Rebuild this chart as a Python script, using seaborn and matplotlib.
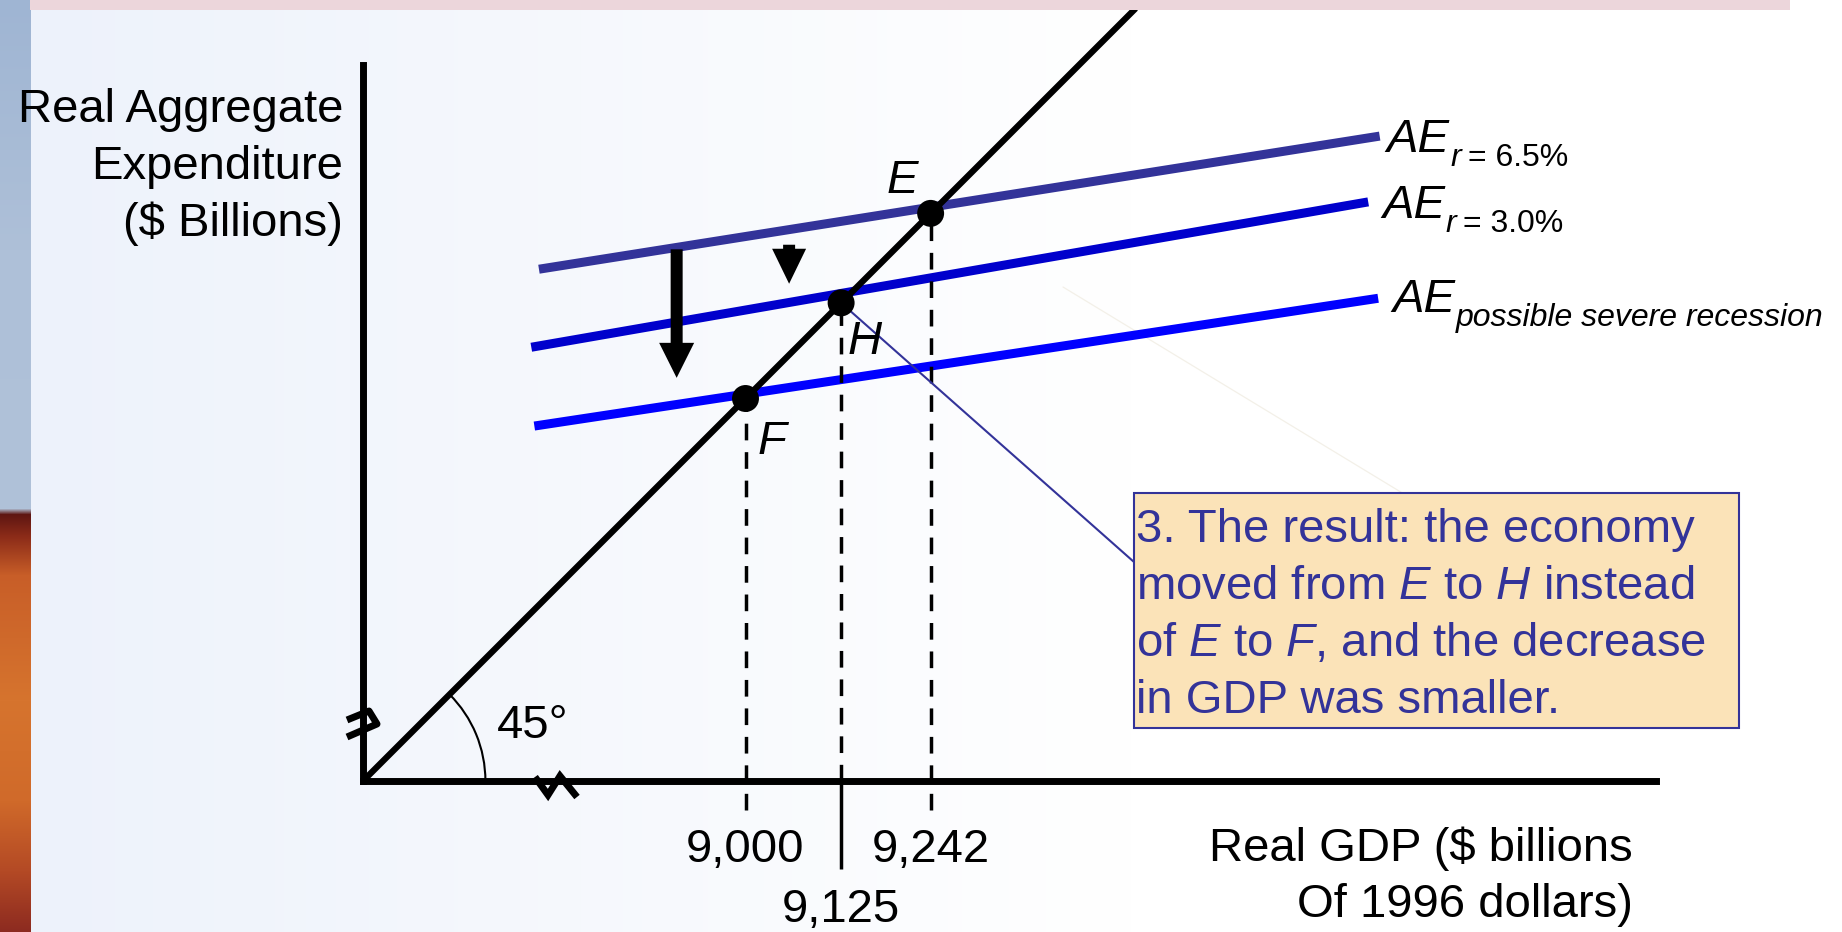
import numpy as np
import pandas as pd
import matplotlib
matplotlib.use("Agg")
import matplotlib.pyplot as plt
import matplotlib.transforms as mtransforms
from matplotlib.patches import Arc, Rectangle
from matplotlib.colors import to_rgb
import seaborn as sns

# ---------------- data ----------------
eq_labels = ["E", "H", "F"]
eq_gdp = [9242, 9125, 9000]                 # equilibrium real GDP, $ billions
gdp_tick_labels = ["9,242", "9,125", "9,000"]

ae_names = ["r = 6.5%", "r = 3.0%", "possible severe recession"]
ae_gdp_start = [8730, 8720, 8724]
ae_gdp_end = [9829, 9814, 9827]
ae_value_start = [9169, 9067, 8964]
ae_value_end = [9343, 9257, 9131]
ae_colors = ["#333399", "#0000cc", "#0000ff"]

line45_range = [8500, 9510]

AXIS_ORIGIN = 8500
X_AXIS_END = 10190
Y_AXIS_END = 9436

box_lines = [
    "3. The result: the economy",
    r"moved from $\mathit{E}$ to $\mathit{H}$ instead",
    r"of $\mathit{E}$ to $\mathit{F}$, and the decrease",
    "in GDP was smaller.",
]
y_title_lines = ["Real Aggregate", "Expenditure", "($ Billions)"]
x_title_lines = ["Real GDP ($ billions", "Of 1996 dollars)"]

# ---------------- layout ----------------
W, H, DPI = 1842, 932, 100
PPU = 0.765                      # pixels per $bn
OX, OY = 363, 781                # pixel position of the axis origin
FS = 34
FS_SUB = 23
NAVY = "#333399"

sns.set_theme(style="white")
plt.rcParams["font.family"] = ["Liberation Sans", "DejaVu Sans"]
plt.rcParams["mathtext.fontset"] = "custom"
plt.rcParams["mathtext.rm"] = "Liberation Sans"
plt.rcParams["mathtext.it"] = "Liberation Sans:italic"
plt.rcParams["text.color"] = "black"

fig = plt.figure(figsize=(W / DPI, H / DPI), dpi=DPI)
fig.patch.set_facecolor("white")
pix = mtransforms.Affine2D().scale(1, -1).translate(0, H)   # top-left pixel coords

# background gradient
bg = fig.add_axes([0, 0, 1, 1], zorder=-5)
xs = np.arange(W)
t = np.clip((xs - 30) / 1100.0, 0, 1)[:, None]
c0 = np.array(to_rgb("#edf2fb"))
grad = (c0 * (1 - t) + np.ones(3) * t)[None, :, :]
bg.imshow(grad, aspect="auto", extent=(0, 1, 0, 1))
bg.axis("off")

# decorative left strip
strip = fig.add_axes([0, 0, 30 / W, 1], zorder=-4)
stops = [(0, "#9fb5d3"), (250, "#aec0d8"), (508, "#b0c2d9"), (514, "#5e1612"),
         (535, "#8a2a18"), (575, "#c85e28"), (700, "#d6742e"), (800, "#d06a2a"),
         (870, "#b44a25"), (932, "#8c2a20")]
ys = np.arange(H)
cols = np.zeros((H, 1, 3))
sp = [s[0] for s in stops]
for k in range(3):
    cols[:, 0, k] = np.interp(ys, sp, [to_rgb(s[1])[k] for s in stops])
strip.imshow(cols, aspect="auto", extent=(0, 1, 0, 1))
strip.axis("off")

ax = fig.add_axes([0, 0, 1, 1])
ax.patch.set_alpha(0)

# AE curves
ae_df = pd.DataFrame({
    "curve": np.repeat(ae_names, 2),
    "gdp": np.ravel(np.column_stack([ae_gdp_start, ae_gdp_end])),
    "ae": np.ravel(np.column_stack([ae_value_start, ae_value_end])),
})
sns.lineplot(data=ae_df, x="gdp", y="ae", hue="curve", hue_order=ae_names,
             palette=dict(zip(ae_names, ae_colors)), linewidth=6.5,
             solid_capstyle="butt", legend=False, errorbar=None, sort=False,
             ax=ax, zorder=2)

# 45-degree line
sns.lineplot(x=line45_range, y=line45_range, color="black", linewidth=4.5,
             solid_capstyle="butt", errorbar=None, ax=ax, zorder=4)

# dashed drop lines
dash = (0, (4.8, 3.4))
ax.vlines([eq_gdp[0], eq_gdp[2]], ymin=AXIS_ORIGIN - 29 / PPU,
          ymax=[eq_gdp[0], eq_gdp[2]], colors="black", linewidth=2.5,
          linestyles=[dash], zorder=3)
ax.vlines(eq_gdp[1], AXIS_ORIGIN, eq_gdp[1], colors="black", linewidth=2.5,
          linestyles=[dash], zorder=3)
ax.vlines(eq_gdp[1], AXIS_ORIGIN - 88 / PPU, AXIS_ORIGIN, colors="black",
          linewidth=2.5, zorder=3)

# connector from H to the text box
ax.plot([eq_gdp[1], AXIS_ORIGIN + (1134 - OX) / PPU],
        [eq_gdp[1], AXIS_ORIGIN + (OY - 562) / PPU],
        color=NAVY, linewidth=1.5, zorder=3)
# faint ghost line
ax.plot([1063, 1404], [287, 494], transform=pix, color="#f3f0e8",
        linewidth=0.9, zorder=1)

# equilibrium points
sns.scatterplot(x=eq_gdp, y=eq_gdp, s=19.4 ** 2, color="black",
                edgecolor="none", ax=ax, zorder=6)

# point labels (offsets in px: right, up)
pt_offsets_px = [(-28, 20), (23, -51), (26, -56)]
for lbl, g, (dx, dy) in zip(eq_labels, eq_gdp, pt_offsets_px):
    ax.annotate(lbl, (g, g), xytext=(dx * 0.72, dy * 0.72),
                textcoords="offset points", ha="center", va="baseline",
                fontsize=FS, fontstyle="italic", zorder=7)

# shift arrows
ax.arrow(8910, 9195, 0, 9027 - 9195, width=12 / PPU, head_width=35 / PPU,
         head_length=35 / PPU, length_includes_head=True, fc="black",
         ec="none", zorder=5)
ax.arrow(9057, 9201, 0, 9150 - 9201, width=12 / PPU, head_width=34 / PPU,
         head_length=35 / PPU, length_includes_head=True, fc="black",
         ec="none", zorder=5)

# 45 degree arc
ax.add_patch(Arc((AXIS_ORIGIN, AXIS_ORIGIN), 2 * 160, 2 * 160, theta1=0,
                 theta2=45, color="black", linewidth=1.5, zorder=4))
ax.text(533, 738, "45°", transform=pix, ha="center", va="baseline",
        fontsize=FS)

# axes as spines
for s in ["top", "right"]:
    ax.spines[s].set_visible(False)
for s, end in [("left", Y_AXIS_END), ("bottom", X_AXIS_END)]:
    ax.spines[s].set_position(("data", AXIS_ORIGIN))
    ax.spines[s].set_bounds(AXIS_ORIGIN, end)
    ax.spines[s].set_linewidth(5)
    ax.spines[s].set_color("black")
    ax.spines[s].set_capstyle("projecting")
    ax.spines[s].set_zorder(4)

# axis breaks
def pxshape(anchor, pts):
    return ([anchor[0] + dx / PPU for dx, dy in pts],
            [anchor[1] - dy / PPU for dx, dy in pts])

bx, by = pxshape((AXIS_ORIGIN, AXIS_ORIGIN + (OY - 724) / PPU),
                 [(-16, -4), (6, -13), (14, 0), (-16, 13)])
ax.plot(bx, by, color="black", linewidth=5, solid_joinstyle="round",
        solid_capstyle="butt", zorder=5)
bx, by = pxshape((AXIS_ORIGIN + (556 - OX) / PPU, AXIS_ORIGIN),
                 [(-21, -4), (-8, 14), (4, -5), (21, 16)])
ax.plot(bx, by, color="black", linewidth=5, solid_joinstyle="miter",
        solid_capstyle="butt", zorder=5)

# ticks
ax.set_xticks(eq_gdp, gdp_tick_labels)
ax.set_yticks([])
ax.tick_params(axis="x", length=0, labelsize=FS, labelcolor="black")
for tick, val in zip(ax.xaxis.get_major_ticks(), ax.get_xticks()):
    tick.set_pad(77 if int(val) == eq_gdp[1] else 33.8)
ax.set(xlabel="", ylabel="")

# AE labels
ae_label_offsets_px = [(7, -16), (14, -16), (14, -14)]
for name, xe, ye, (dx, dy) in zip(ae_names, ae_gdp_end, ae_value_end,
                                  ae_label_offsets_px):
    t_ae = ax.annotate("AE", (xe, ye), xytext=(dx * 0.72, dy * 0.72),
                       textcoords="offset points", ha="left", va="baseline",
                       fontsize=FS, fontstyle="italic")
    if name.startswith("r "):
        pieces = [("r", "italic"), (name[2:], "normal")]
    else:
        pieces = [(name, "italic")]
    prev = t_ae
    for i, (txt, st) in enumerate(pieces):
        if i == 0:
            prev = ax.annotate(txt, (1, 0), xycoords=prev, xytext=(0.3, -2.6),
                               textcoords="offset points", ha="left",
                               va="baseline", fontsize=FS_SUB, fontstyle=st)
        else:
            prev = ax.annotate(txt, (1, 0), xycoords=prev, xytext=(5, 0),
                               textcoords="offset points", ha="left",
                               va="bottom", fontsize=FS_SUB, fontstyle=st)

# axis titles
for line, yb in zip(y_title_lines, [122, 179, 236]):
    ax.text(343, yb, line, transform=pix, ha="right", va="baseline", fontsize=FS)
for line, yb in zip(x_title_lines, [861, 917]):
    ax.text(1633, yb, line, transform=pix, ha="right", va="baseline", fontsize=FS)

# text box
ax.add_patch(Rectangle((1134, 493), 1739 - 1134, 728 - 493, transform=pix,
                       facecolor="#fbe3b8", edgecolor=NAVY, linewidth=1.5,
                       zorder=7, clip_on=False))
for line, yb in zip(box_lines, [542, 599, 656, 713]):
    ax.text(1136, yb, line, transform=pix, ha="left", va="baseline",
            fontsize=FS, color=NAVY, zorder=8)

# top band
ax.add_patch(Rectangle((30, 0), 1760, 9.5, transform=pix, facecolor="#ecd6db",
                       edgecolor="none", zorder=10, clip_on=False))

ax.set_xlim(AXIS_ORIGIN - OX / PPU, AXIS_ORIGIN + (W - OX) / PPU)
ax.set_ylim(AXIS_ORIGIN - (H - OY) / PPU, AXIS_ORIGIN + OY / PPU)

fig.savefig("out.png", dpi=DPI)
